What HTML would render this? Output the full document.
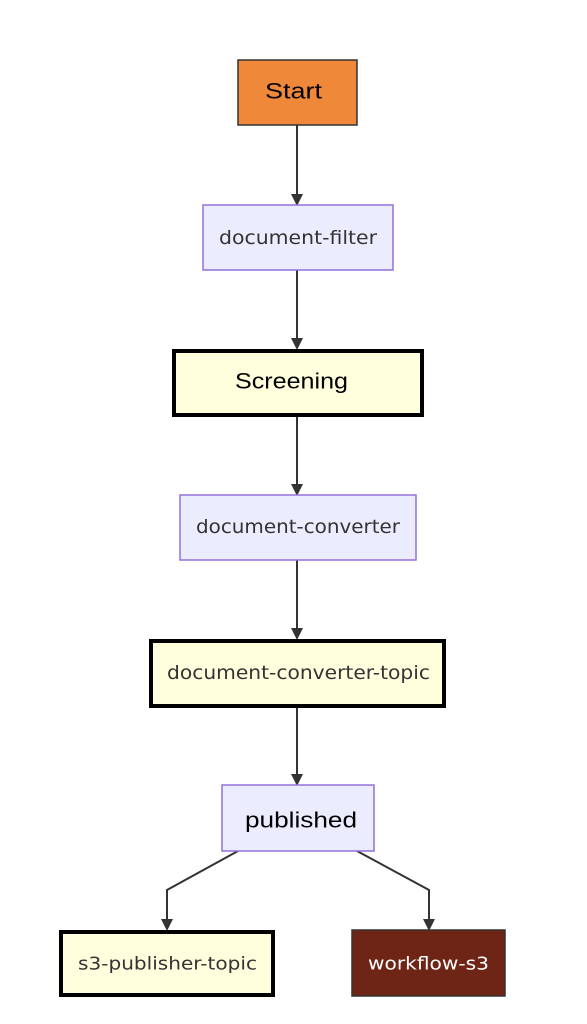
<!DOCTYPE html>
<html><head><meta charset="utf-8"><style>
html,body{margin:0;padding:0;background:#fff;}
svg{display:block;}
text{font-family:"DejaVu Sans","Liberation Sans",sans-serif;text-anchor:middle;dominant-baseline:central;}
.b{font-family:"Liberation Sans",sans-serif;}
</style></head><body>
<svg width="587" height="1024" viewBox="0 0 587 1024">
<defs><marker id="a" markerWidth="12" markerHeight="12" refX="10" refY="6" orient="auto" markerUnits="userSpaceOnUse"><path d="M0,0 L12,6 L0,12 z" fill="#333"/></marker></defs>
<g stroke="#333" stroke-width="2" fill="none" marker-end="url(#a)">
<path d="M297,125 V204"/>
<path d="M297,270 V348"/>
<path d="M297,417 V494"/>
<path d="M297,560 V638"/>
<path d="M297,708 V784"/>
<path d="M238,851 L167,890 V929"/>
<path d="M357,851 L429,890 V929"/>
</g>
<rect x="238" y="60" width="119" height="65" fill="#F0883A" stroke="#333" stroke-width="1.5"/>
<text class="b" x="293.5" y="91" font-size="22" fill="#000" textLength="57" lengthAdjust="spacingAndGlyphs">Start</text>
<rect x="203" y="205" width="190" height="65" fill="#ECECFF" stroke="#9370DB" stroke-width="1.5"/>
<text x="298" y="238" font-size="19" fill="#333" textLength="158" lengthAdjust="spacingAndGlyphs">document-filter</text>
<rect x="174" y="351" width="248" height="64" fill="#FFFFDE" stroke="#000" stroke-width="4"/>
<text class="b" x="291.5" y="381" font-size="22" fill="#000" textLength="113" lengthAdjust="spacingAndGlyphs">Screening</text>
<rect x="180" y="495" width="236" height="65" fill="#ECECFF" stroke="#9370DB" stroke-width="1.5"/>
<text x="298" y="527" font-size="19" fill="#333" textLength="204" lengthAdjust="spacingAndGlyphs">document-converter</text>
<rect x="151" y="641" width="293" height="65" fill="#FFFFDE" stroke="#000" stroke-width="4"/>
<text x="298.5" y="673" font-size="19" fill="#333" textLength="263" lengthAdjust="spacingAndGlyphs">document-converter-topic</text>
<rect x="222" y="785" width="152" height="66" fill="#ECECFF" stroke="#9370DB" stroke-width="1.5"/>
<text class="b" x="301" y="820" font-size="22" fill="#000" textLength="112" lengthAdjust="spacingAndGlyphs">published</text>
<rect x="61" y="932" width="212" height="63" fill="#FFFFDE" stroke="#000" stroke-width="4"/>
<text x="167.5" y="964" font-size="18" fill="#333" textLength="179" lengthAdjust="spacingAndGlyphs">s3-publisher-topic</text>
<rect x="352" y="930" width="153" height="66" fill="#6E2516" stroke="#333" stroke-width="1.5"/>
<text x="428.5" y="964" font-size="18" fill="#fff" textLength="121" lengthAdjust="spacingAndGlyphs">workflow-s3</text>
</svg>
</body></html>
